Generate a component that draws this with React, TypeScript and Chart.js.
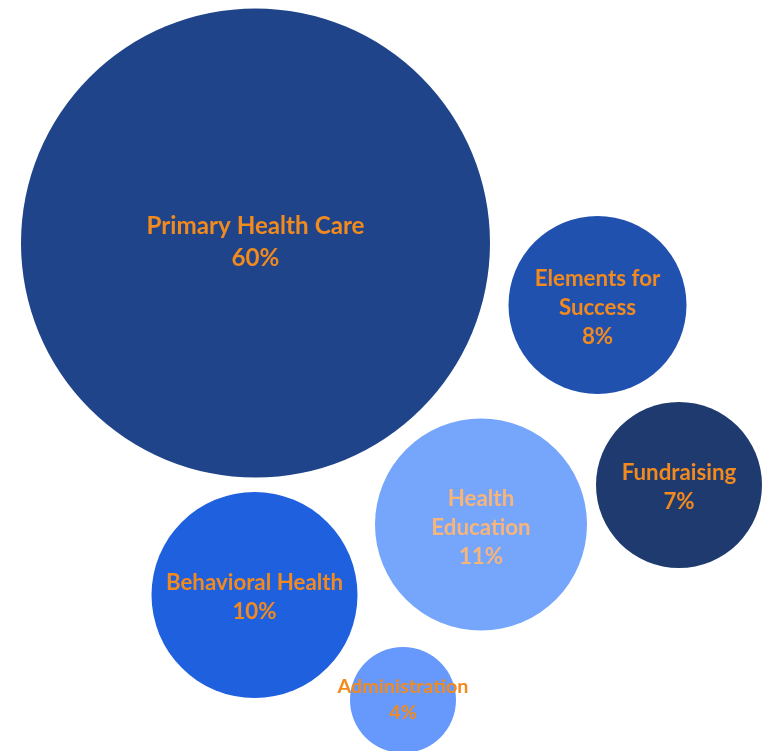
import React, { useEffect, useRef } from "react";
import { Chart, registerables } from "chart.js";

Chart.register(...registerables);

const categories = ["Primary Health Care", "Elements for Success", "Fundraising", "Health Education", "Behavioral Health", "Administration"];
const labelLines = [["Primary Health Care"], ["Elements for", "Success"], ["Fundraising"], ["Health", "Education"], ["Behavioral Health"], ["Administration"]];
const shares = [60, 8, 7, 11, 10, 4];
const xValues = [255.5, 597.5, 679, 481, 254.5, 403];
const yValues = [243, 305, 485, 524.5, 595, 700];
const radii = [234.5, 89, 83, 106, 103, 53];
const colors = ["#1F4489", "#2151AF", "#1F3A6E", "#76A5FC", "#1F60DE", "#6699FB"];
const textColors = ["#F28A1E", "#F28A1E", "#F28A1E", "#F7B57A", "#F28A1E", "#F28A1E"];

const labelPlugin = {
  id: "bubbleLabels",
  afterDatasetsDraw(chart: any) {
    const ctx = chart.ctx;
    const meta = chart.getDatasetMeta(0);
    meta.data.forEach((el: any, i: number) => {
      const lines = [...labelLines[i], shares[i] + "%"];
      const big = radii[i] > 200;
      const small = radii[i] < 60;
      const size = big ? 24.2 : small ? 19.8 : 22.3;
      const lh = big ? 32 : small ? 26 : 29;
      const shift = big ? -1 : small ? 0 : lines.length > 2 ? 3 : 2;
      ctx.save();
      ctx.font = `bold ${size}px Lato, "Open Sans", sans-serif`;
      ctx.fillStyle = textColors[i];
      ctx.textAlign = "center";
      ctx.textBaseline = "middle";
      const start = el.y + shift - ((lines.length - 1) * lh) / 2;
      lines.forEach((t, j) => ctx.fillText(t, el.x, start + j * lh));
      ctx.restore();
    });
  },
};

export default function App() {
  const ref = useRef<HTMLCanvasElement>(null);
  useEffect(() => {
    if (!ref.current) return;
    const chart = new Chart(ref.current, {
      type: "bubble",
      data: {
        labels: categories,
        datasets: [
          {
            data: categories.map((_, i) => ({ x: xValues[i], y: yValues[i], r: radii[i] })),
            backgroundColor: colors,
            borderWidth: 0,
            hoverBorderWidth: 0,
            clip: false as any,
          },
        ],
      },
      options: {
        animation: false,
        responsive: true,
        maintainAspectRatio: false,
        layout: { padding: 0, autoPadding: false },
        plugins: { legend: { display: false }, tooltip: { enabled: false } },
        events: [],
        scales: {
          x: { type: "linear", min: 0, max: 762, display: false },
          y: { type: "linear", min: 0, max: 751, reverse: true, display: false },
        },
      },
      plugins: [labelPlugin],
    });
    return () => chart.destroy();
  }, []);
  return (
    <div style={{ position: "fixed", left: 0, top: 0, width: 762, height: 751, background: "#fff" }}>
      <canvas ref={ref} />
    </div>
  );
}
